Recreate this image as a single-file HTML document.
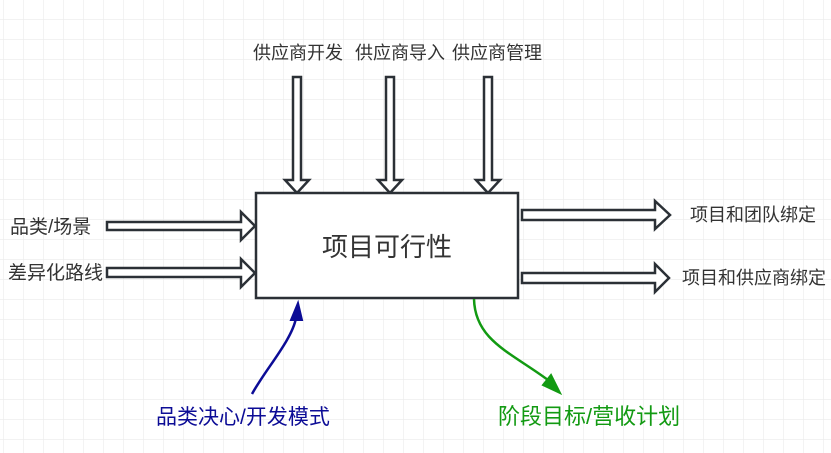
<!DOCTYPE html>
<html><head><meta charset="utf-8"><style>
html,body{margin:0;padding:0;background:#fff;}
svg{display:block;}
text{font-family:"Liberation Sans","Noto Sans CJK SC",sans-serif;}
</style></head><body>
<svg width="831" height="453" viewBox="0 0 831 453" xmlns="http://www.w3.org/2000/svg">
<defs>
<pattern id="g" x="3" y="-1" width="20" height="20" patternUnits="userSpaceOnUse">
<path d="M0 0H20M0 0V20" stroke="#ebebeb" stroke-width="1.2" fill="none"/>
</pattern>
</defs>
<rect width="831" height="453" fill="url(#g)"/>
<g fill="#fff" stroke="#2b3036" stroke-width="2.5" stroke-linejoin="miter">
<path d="M293 77H301V180H309L297 193L285 180H293Z"/>
<path d="M386 77H394V180H402L390 193L378 180H386Z"/>
<path d="M484 77H492V180H500L488 193L476 180H484Z"/>
<path d="M107 222H241V212L255 226L241 240V230H107Z"/>
<path d="M107 268H241V259L255 273L241 287V277H107Z"/>
<path d="M522 210H655V201L670 215L655 229V220H522Z"/>
<path d="M522 273H655V264L669 278L655 292V283H522Z"/>
<rect x="256" y="193" width="262" height="105"/>
</g>
<text x="387" y="256" font-size="26" fill="#333" text-anchor="middle">项目可行性</text>
<g font-size="18" fill="#333">
<text x="253" y="59">供应商开发</text>
<text x="355" y="59">供应商导入</text>
<text x="452" y="59">供应商管理</text>
<text x="10" y="233" font-size="19">品类/场景</text>
<text x="8" y="279" font-size="19">差异化路线</text>
<text x="690" y="221">项目和团队绑定</text>
<text x="682" y="284">项目和供应商绑定</text>
</g>
<path d="M252 394C265 370 292 340 296 318" stroke="#0c0c96" stroke-width="2.5" fill="none"/>
<path d="M298 303L291 320L302 320Z" fill="#0c0c96" stroke="#0c0c96" stroke-width="2"/>
<path d="M474 299C475 340 510 352 548 380" stroke="#129a12" stroke-width="2.5" fill="none"/>
<path d="M560 393L543 385L551 375Z" fill="#129a12" stroke="#129a12" stroke-width="2"/>
<text x="156" y="424" font-size="21" fill="#0c0c96">品类决心/开发模式</text>
<text x="498" y="424" font-size="22" fill="#129a12">阶段目标/营收计划</text>
</svg>
</body></html>
